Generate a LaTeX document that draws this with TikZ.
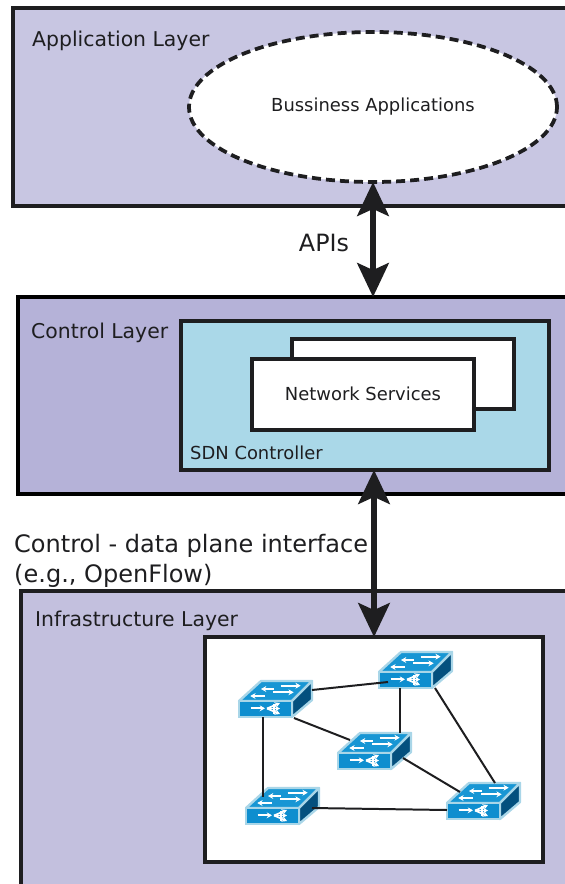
\documentclass[tikz,border=0pt]{standalone}
\usepackage{fontspec}
\setmainfont{DejaVu Sans}
\usepackage{xcolor}
\usepackage{tikz}
\usetikzlibrary{arrows.meta,shapes,positioning,calc}
\definecolor{sdnink}{RGB}{30,30,32}
\definecolor{sdnapp}{RGB}{200,198,226}
\definecolor{sdnctl}{RGB}{181,178,216}
\definecolor{sdninfra}{RGB}{195,192,222}
\definecolor{sdnblue}{RGB}{170,216,232}
\definecolor{swfront}{RGB}{14,142,207}
\definecolor{swtop}{RGB}{24,150,212}
\definecolor{swside}{RGB}{4,80,126}
\definecolor{swedge}{RGB}{169,214,232}

\tikzset{
    layerbox/.style={draw=sdnink, line width=3pt, anchor=north west, inner sep=0pt, outer sep=0pt},
    whitebox/.style={draw=sdnink, line width=2.8pt, fill=white, anchor=north west, inner sep=0pt, outer sep=0pt},
    layerlabel/.style={anchor=west, inner sep=0pt, text=sdnink, font=\fontsize{17.4}{21}\selectfont},
    boxlabel/.style={inner sep=0pt, text=sdnink, font=\fontsize{15.3}{19}\selectfont},
    biarrow/.style={{Stealth[length=29pt,width=27pt,inset=6pt]}-{Stealth[length=29pt,width=27pt,inset=6pt]}, line width=4.4pt, draw=sdnink, fill=sdnink},
    swface/.style={draw=swedge, line width=2pt, fill=swfront, anchor=north west, minimum width=1.59cm, minimum height=0.48cm, inner sep=0pt, outer sep=0pt},
    swarrow/.style={-{Stealth[length=4.5pt,width=5pt]}, white, line width=1.5pt},
    swlink/.style={line width=1.7pt, draw=sdnink}
}

% one switch: name, top left corner of the front face
\newcommand{\switchunit}[2]{
    \begin{scope}[shift={(#2)}]
        \draw[swedge, line width=2pt, fill=swtop, line join=round] (0,0) -- (22,-20) -- (73,-20) -- (53,0) -- cycle;
        \draw[swedge, line width=2pt, fill=swside, line join=round] (53,0) -- (73,-20) -- (73,-1) -- (53,16) -- cycle;
        \node[swface] (#1) at (0,0) {};
        \foreach \xa/\xb/\ya in {41.7/61.7/-15.3, 35/22/-12, 34/54.7/-8.7, 25.7/11.3/-5} {
            \draw[swarrow] (\xa,\ya) -- (\xb,\ya);
        }
        \draw[swarrow] (11.7,7.3) -- (26,7.3);
        \foreach \ya in {2,7.5,13} {
            \draw[swarrow] (28,7.5) -- (41,\ya);
        }
        \draw[white, line width=1.5pt] (35,2.5) -- (35,12.5);
    \end{scope}
}

\begin{document}
\begin{tikzpicture}[x=0.03cm, y=-0.03cm]
    \useasboundingbox (0,0) rectangle (565,884);
    \clip (0,0) rectangle (565,884);

    % Layers
    \node[layerbox, fill=sdnapp, minimum width=21cm, minimum height=5.94cm] (application) at (13,8) {};
    \node[layerbox, fill=sdnctl, draw=black, minimum width=21cm, minimum height=5.91cm] (control) at (18,297) {};
    \node[layerbox, fill=sdninfra, minimum width=21cm, minimum height=8.88cm] (infrastructure) at (21,591) {};

    % Layer labels
    \node[layerlabel] (applabel) at (32,41) {Application Layer};
    \node[layerlabel] (ctllabel) at (31,333) {Control Layer};
    \node[layerlabel] (infralabel) at (35,621) {Infrastructure Layer};

    % Business applications
    \node[ellipse, draw=sdnink, fill=white, line width=3.2pt, dash pattern=on 7.7pt off 4.3pt, minimum width=11.04cm, minimum height=4.5cm, inner sep=0pt, outer sep=0pt] (apps) at (373,107) {};
    \node[boxlabel] (appstext) at (373,107) {Bussiness Applications};

    % SDN controller
    \node[whitebox, fill=sdnblue, minimum width=11.04cm, minimum height=4.47cm] (sdn) at (181,321) {};
    \node[whitebox, minimum width=6.66cm, minimum height=2.1cm] (servicesback) at (292,339) {};
    \node[whitebox, minimum width=6.66cm, minimum height=2.13cm] (services) at (252,359) {};
    \node[boxlabel] (servicestext) at (363,394) {Network Services};
    \node[anchor=west, inner sep=0pt, text=sdnink, font=\fontsize{15.3}{18}\selectfont] (sdnlabel) at (190,453) {SDN Controller};

    % Switch network
    \node[whitebox, minimum width=10.14cm, minimum height=6.75cm] (network) at (205,637) {};
    \switchunit{swa}{239,701}
    \switchunit{swb}{379,672}
    \switchunit{swc}{338,753}
    \switchunit{swd}{246,808}
    \switchunit{swe}{447,803}

    \draw[swlink] ([shift={(73,-11)}]swa.north west) -- ([shift={(9,10)}]swb.north west);
    \draw[swlink] ([shift={(55,17)}]swa.north west) -- ([shift={(12,-13)}]swc.north west);
    \draw[swlink] ([shift={(24,16)}]swa.north west) -- ([shift={(17,-11)}]swd.north west);
    \draw[swlink] ([shift={(21,16)}]swb.north west) -- ([shift={(62,-20)}]swc.north west);
    \draw[swlink] ([shift={(56,16)}]swb.north west) -- ([shift={(48,-20)}]swe.north west);
    \draw[swlink] ([shift={(65,5)}]swc.north west) -- ([shift={(13,-11)}]swe.north west);
    \draw[swlink] ([shift={(66,0)}]swd.north west) -- ([shift={(0,7)}]swe.north west);

    % Interfaces
    \draw[biarrow] (apps.south) -- (apps.south |- control.north);
    \draw[biarrow] (network.north |- sdn.south) -- (network.north);
    \node[anchor=center, inner sep=0pt, text=sdnink, font=\fontsize{20.3}{24}\selectfont] (apis) at (324,243) {APIs};
    \node[anchor=north west, align=left, inner sep=0pt, text=sdnink, font=\fontsize{20.5}{25.6}\selectfont] (cdpi) at (14,534) {Control - data plane interface\\(e.g., OpenFlow)};
\end{tikzpicture}
\end{document}
